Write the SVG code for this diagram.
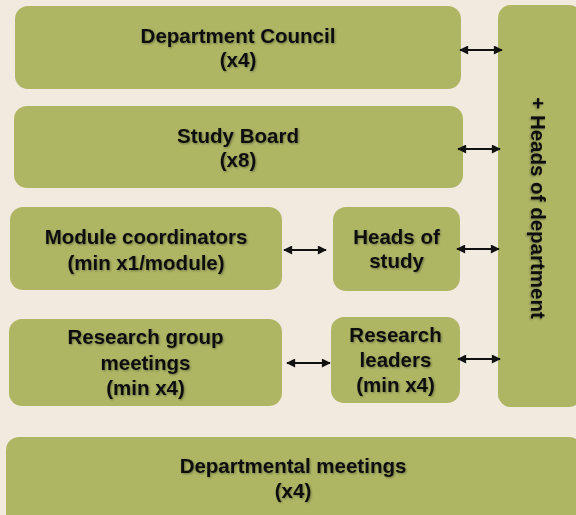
<svg xmlns="http://www.w3.org/2000/svg" width="576" height="515" viewBox="0 0 576 515">
  <defs>
    <style>
      .box { fill: #aeb664; }
      .lbl { font-family: "Liberation Sans", Arial, sans-serif; font-weight: bold; font-size: 20.5px; fill: #111; text-anchor: middle; filter: url(#soft); }
      .link { stroke: #111; stroke-width: 1.8; fill: none; marker-start: url(#head); marker-end: url(#head); }
    </style>
    <filter id="soft" x="-10%" y="-20%" width="120%" height="140%">
      <feDropShadow dx="1" dy="1" stdDeviation="0.8" flood-color="#000" flood-opacity="0.35"/>
    </filter>
    <marker id="head" viewBox="0 0 10 10" refX="9" refY="5" markerWidth="10" markerHeight="9" markerUnits="userSpaceOnUse" orient="auto-start-reverse">
      <path d="M0,0 L10,5 L0,10 Z" fill="#111"/>
    </marker>
  </defs>

  <rect width="576" height="515" fill="#f1eadf"/>

  <g id="department-council">
    <rect class="box" x="15" y="6" width="446" height="83" rx="13"/>
    <text class="lbl" x="238" y="43">Department Council</text>
    <text class="lbl" x="238" y="67">(x4)</text>
  </g>

  <g id="study-board">
    <rect class="box" x="14" y="106" width="449" height="82" rx="13"/>
    <text class="lbl" x="238" y="143">Study Board</text>
    <text class="lbl" x="238" y="167">(x8)</text>
  </g>

  <g id="heads-of-department">
    <rect class="box" x="498" y="5" width="84" height="402" rx="13"/>
    <text class="lbl" transform="translate(531,208) rotate(90)">+ Heads of department</text>
  </g>

  <g id="module-coordinators">
    <rect class="box" x="10" y="207" width="272" height="83" rx="13"/>
    <text class="lbl" x="146" y="244">Module coordinators</text>
    <text class="lbl" x="146" y="270">(min x1/module)</text>
  </g>

  <g id="heads-of-study">
    <rect class="box" x="333" y="207" width="127" height="84" rx="13"/>
    <text class="lbl" x="396.5" y="244">Heads of</text>
    <text class="lbl" x="396.5" y="268">study</text>
  </g>

  <g id="research-group-meetings">
    <rect class="box" x="9" y="319" width="273" height="87" rx="13"/>
    <text class="lbl" x="145.5" y="344">Research group</text>
    <text class="lbl" x="145.5" y="370">meetings</text>
    <text class="lbl" x="145.5" y="395">(min x4)</text>
  </g>

  <g id="research-leaders">
    <rect class="box" x="331" y="317" width="129" height="86" rx="13"/>
    <text class="lbl" x="395.5" y="342">Research</text>
    <text class="lbl" x="395.5" y="367">leaders</text>
    <text class="lbl" x="395.5" y="392">(min x4)</text>
  </g>

  <g id="departmental-meetings">
    <rect class="box" x="6" y="437" width="576" height="90" rx="13"/>
    <text class="lbl" x="293" y="473">Departmental meetings</text>
    <text class="lbl" x="293" y="498">(x4)</text>
  </g>

  <g id="connectors">
    <line class="link" x1="460" y1="50" x2="502" y2="50"/>
    <line class="link" x1="458" y1="149" x2="500" y2="149"/>
    <line class="link" x1="284" y1="250" x2="326" y2="250"/>
    <line class="link" x1="457" y1="249" x2="499" y2="249"/>
    <line class="link" x1="287" y1="363" x2="330" y2="363"/>
    <line class="link" x1="458" y1="359" x2="500" y2="359"/>
  </g>
</svg>
